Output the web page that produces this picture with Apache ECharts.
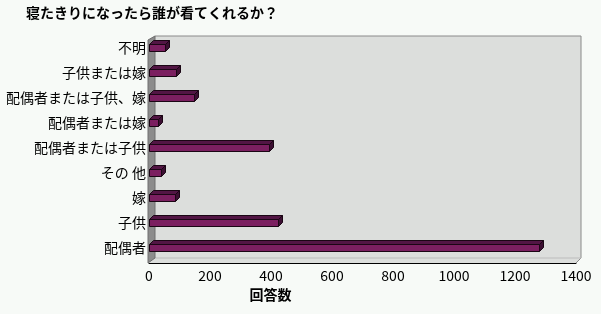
<!DOCTYPE html>
<html><head><meta charset="utf-8">
<script src="https://cdn.jsdelivr.net/npm/echarts@6/dist/echarts.min.js"></script>
<style>html,body{margin:0;padding:0;background:#f7faf7;}#c{width:601px;height:314px;}</style>
</head><body><div id="c"></div>
<script>
const titleText = '寝たきりになったら誰が看てくれるか？';
const axisName = '回答数';
const categories = ['配偶者','子供','嫁','その 他','配偶者または子供','配偶者または嫁','配偶者または子供、嫁','子供または嫁','不明'];
const values = [1280, 423, 85, 40, 393, 30, 148, 89, 52];
const xTicks = [0, 200, 400, 600, 800, 1000, 1200, 1400];

const FONT = '"Noto Sans CJK JP", sans-serif';
const chart = echarts.init(document.getElementById('c'), null, {renderer:'canvas'});

function renderWalls(params, api){
  const c = params.coordSys;
  const x = c.x, y = c.y, w = c.width, h = c.height;
  const d = 5;
  return {type:'group', silent:true, children:[
    {type:'polygon', shape:{points:[[x+d+1,y+1],[x+w+d,y+1],[x+w+d,y+h+3-d],[x+w,y+h+3],[x,y+h+3],[x,y+h+3-d]]}, style:{fill:'#dcdedc'}},
    {type:'polyline', shape:{points:[[x+d+1,y+1],[x+w+d,y+1],[x+w+d,y+h+3-d],[x+w,y+h+3]]}, style:{stroke:'#8a8a8a', lineWidth:1, fill:null}},
    {type:'polyline', shape:{points:[[x+d+1,y+h+3-d],[x+w+d,y+h+3-d]]}, style:{stroke:'#bcbcbc', lineWidth:1, fill:null}},
    {type:'polygon', shape:{points:[[x-1,y+d],[x+d+1,y+1],[x+d+1,y+h+3-d],[x-1,y+h+3]]}, style:{fill:'#8c8c8c', stroke:'#6e6e6e', lineWidth:1}}
  ]};
}

function renderBar(params, api){
  const idx = api.value(1), v = api.value(0);
  const p0 = api.coord([0, idx]);
  const p1 = api.coord([v, idx]);
  const d = 4, h = 7;
  const yT = Math.round(p0[1] - h/2) + 0.5, yB = yT + h;
  const x0 = Math.round(p0[0]) + 0.5, x1 = Math.round(p1[0]) + 0.5;
  return {type:'group', children:[
    {type:'polygon', shape:{points:[[x0,yT],[x1,yT],[x1+d,yT-d],[x0+d,yT-d]]}, style:{fill:'#521544', stroke:'#1a0614', lineWidth:1}},
    {type:'polygon', shape:{points:[[x1,yT],[x1+d,yT-d],[x1+d,yB-d],[x1,yB]]}, style:{fill:'#3c0f32', stroke:'#1a0614', lineWidth:1}},
    {type:'rect', shape:{x:x0,y:yT,width:x1-x0,height:h}, style:{fill:'#7b1f60', stroke:'#1a0614', lineWidth:1}}
  ]};
}

chart.setOption({
  backgroundColor:'#f7faf7',
  animation:false,
  title:{text:titleText, left:21, top:1, textStyle:{fontFamily:FONT, fontSize:14, fontWeight:'bold', color:'#000'}},
  grid:{left:149, right:25, top:35, bottom:54, containLabel:false},
  xAxis:{type:'value', min:xTicks[0], max:xTicks[xTicks.length-1], interval:200, offset:3,
    axisLine:{show:true, lineStyle:{color:'#000', width:1}},
    axisTick:{show:true, inside:true, length:4, lineStyle:{color:'#000'}},
    splitLine:{show:false},
    axisLabel:{fontFamily:FONT, fontSize:14, color:'#000', margin:6, formatter:(v)=>String(v)},
    name:axisName, nameLocation:'middle', nameGap:21,
    nameTextStyle:{fontFamily:FONT, fontSize:14, fontWeight:'bold', color:'#000', align:'center', verticalAlign:'top', padding:[0,184,0,0]}
  },
  yAxis:{type:'category', data:categories,
    axisLine:{show:false}, axisTick:{show:false}, splitLine:{show:false},
    axisLabel:{fontFamily:FONT, fontSize:14, color:'#000', margin:3}
  },
  series:[
    {type:'custom', renderItem:renderWalls, data:[[0,0]], encode:{x:0,y:1}, z:1, silent:true},
    {type:'custom', renderItem:renderBar, data:values.map((v,i)=>[v,i]), encode:{x:0,y:1}, z:3}
  ]
});
</script></body></html>
